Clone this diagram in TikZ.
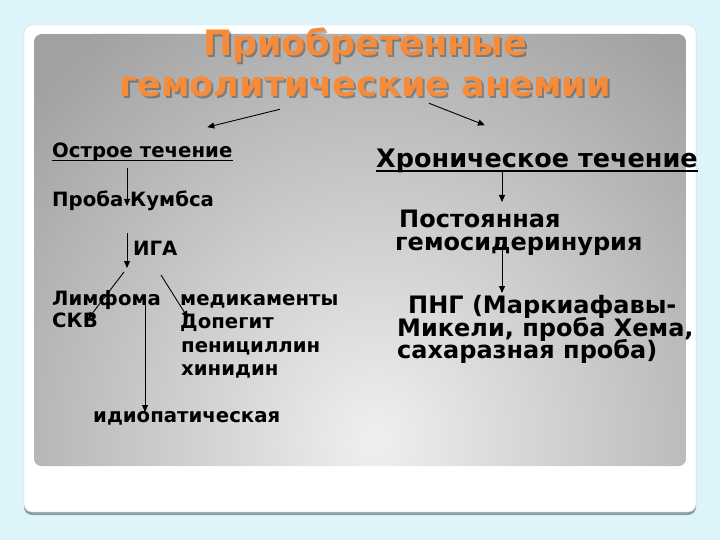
\documentclass[tikz,border=0pt]{standalone}
\usepackage{fontspec}
\setmainfont{DejaVu Sans}
\usetikzlibrary{arrows.meta,calc}
\definecolor{bgcyan}{RGB}{221,245,250}
\definecolor{titleorange}{RGB}{246,140,58}
\definecolor{rimgray}{RGB}{140,158,166}

\begin{document}
\begin{tikzpicture}[x=1pt,y=-1pt,
    arr/.style={-{Triangle[length=7pt,width=6pt]}, line width=0.9pt},
    uline/.style={line width=1.4pt},
    txt/.style={anchor=base west, inner sep=0pt, font=\bfseries\fontsize{19.7}{23}\selectfont},
    big/.style={anchor=base west, inner sep=0pt, font=\bfseries\fontsize{24}{28}\selectfont},
    ttl/.style={inner sep=0pt, font=\bfseries\fontsize{35}{40}\selectfont}]

    % slide background and frame
    \fill[bgcyan] (0,0) rectangle (720,540);
    \fill[rimgray, rounded corners=8] (24,28) rectangle (696,515);
    \filldraw[draw=gray!35, fill=white, rounded corners=8] (24,25) rectangle (696,512);
    \begin{scope}
        \clip[rounded corners=8] (34,34) rectangle (686,466);
        \fill[gray!74] (34,34) rectangle (686,466);
        \shade[inner color=gray!12, outer color=gray!74] (375,440) ellipse (470 and 510);
    \end{scope}

    % title
    \node[ttl, text=black, opacity=0.3] (t1s) at (367,47) {Приобретенные};
    \node[ttl, text=black, opacity=0.3] (t2s) at (367,89) {гемолитические анемии};
    \node[ttl, text=titleorange] (t1) at (365,45) {Приобретенные};
    \node[ttl, text=titleorange] (t2) at (365,87) {гемолитические анемии};

    % acute branch
    \node[txt] (acute) at (52,158) {Острое течение};
    \node[txt] (coombs) at (52,207) {Проба Кумбса};
    \node[txt] (iga) at (133,255) {ИГА};
    \node[txt] (lymph) at (52,305) {Лимфома};
    \node[txt] (skv) at (52,327) {СКВ};
    \node[txt] (drugs) at (180,305) {медикаменты};
    \node[txt] (dopegit) at (180,328) {Допегит};
    \node[txt] (penic) at (181,352) {пенициллин};
    \node[txt] (quin) at (181,375) {хинидин};
    \node[txt] (idio) at (93,422) {идиопатическая};

    % chronic branch
    \node[big, font=\bfseries\fontsize{25.5}{30}\selectfont] (chronic) at (376,168) {Хроническое течение};
    \node[big] (const) at (399,228) {Постоянная};
    \node[big] (hemos) at (395,250) {гемосидеринурия};
    \node[big] (png) at (408,313) {ПНГ (Маркиафавы-};
    \node[big] (mik) at (397,336) {Микели, проба Хема,};
    \node[big] (sah) at (397,358) {сахаразная проба)};

    % underlines
    \draw[uline] ($(acute.base west)+(0,2.5)$) -- ($(acute.base east)+(0,2.5)$);
    \draw[uline] ($(chronic.base west)+(0,3)$) -- ($(chronic.base east)+(0,3)$);

    \draw[arr] ($(t2.south)+(-85,12)$) -- ($(acute.north)+(65,-16)$);
    \draw[arr] ($(t2.south)+(64,6)$) -- ($(chronic.north)+(-52,-24)$);

    \draw[arr] ($(acute.base west)+(75,10)$) -- ($(coombs.base west)+(75,-1)$);
    \draw[arr] ($(coombs.base west)+(75,26)$) -- ($(iga.base west)+(-6,13)$);
    \draw[arr] ($(iga.base west)+(-9,17)$) -- ($(skv.base west)+(36,-8)$);
    \draw[arr] ($(iga.base west)+(28,20)$) -- ($(dopegit.base west)+(8,-10)$);
    \draw[arr] ($(lymph.base west)+(93,-9)$) -- ($(idio.base west)+(52,-10)$);

    \draw[arr] ($(chronic.base west)+(126,4)$) -- ($(const.base west)+(103,-26)$);
    \draw[arr] ($(hemos.base west)+(107,-5)$) -- ($(png.base west)+(94,-20)$);
\end{tikzpicture}
\end{document}
